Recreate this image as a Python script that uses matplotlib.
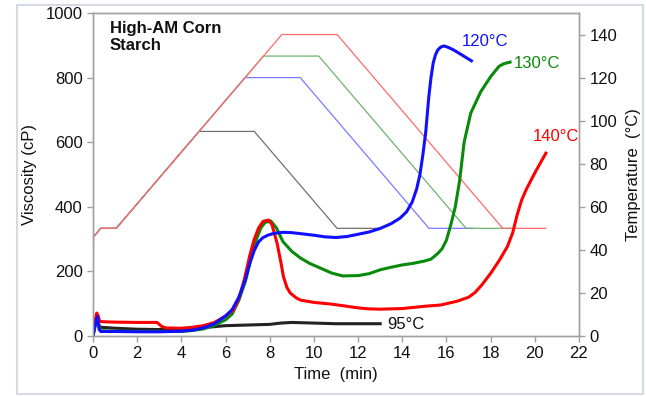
import matplotlib
matplotlib.use("Agg")
import matplotlib.pyplot as plt
from matplotlib.patches import Rectangle

plt.rcParams['font.family'] = ['Liberation Sans', 'DejaVu Sans']

# ---- Temperature profiles (time min, temp °C) ----
temp_95_t = [0, 0.02, 0.35, 1.05, 4.8, 7.3, 11.05, 13.0]
temp_95_v = [0, 46, 50, 50, 95, 95, 50, 50]
temp_120_t = [0, 0.02, 0.35, 1.05, 6.88, 9.38, 15.21, 17.2]
temp_120_v = [0, 46, 50, 50, 120, 120, 50, 50]
temp_130_t = [0, 0.02, 0.35, 1.05, 7.72, 10.22, 16.89, 18.9]
temp_130_v = [0, 46, 50, 50, 130, 130, 50, 50]
temp_140_t = [0, 0.02, 0.35, 1.05, 8.55, 11.05, 18.55, 20.5]
temp_140_v = [0, 46, 50, 50, 140, 140, 50, 50]

# ---- Viscosity curves (time min, cP) ----
visc_95_t = [0, 0.1, 0.18, 0.25, 0.35, 0.6, 1, 2, 3, 4, 5, 6, 7, 8, 8.5, 9, 9.5, 10, 11, 12, 13]
visc_95_v = [0, 50, 62, 35, 27, 26, 24, 21, 20, 22, 26, 32, 34, 36, 40, 42, 41, 40, 38, 38, 38]

visc_120_t = [0, 0.12, 0.2, 0.28, 0.35, 1, 2, 3, 4, 4.5, 5, 5.5, 6, 6.3, 6.6, 6.9, 7.1, 7.3,
              7.5, 7.7, 7.95, 8.2, 8.6, 9, 9.5, 10, 10.5, 11, 11.5, 12, 12.5, 13, 13.5, 13.9,
              14.2, 14.45, 14.65, 14.8, 14.93, 15.06, 15.2, 15.3, 15.4, 15.5, 15.6, 15.75,
              15.9, 16.1, 16.34, 16.7, 17.13]
visc_120_v = [0, 40, 60, 20, 14, 14, 13, 13, 15, 18, 25, 38, 62, 82, 120, 175, 225, 265,
              292, 305, 313, 318, 321, 320, 316, 312, 307, 305, 308, 315, 322, 333, 348, 365,
              385, 415, 455, 500, 560, 630, 740, 800, 845, 870, 885, 895,
              898, 893, 885, 870, 852]

visc_130_t = [0, 0.12, 0.2, 0.3, 0.4, 1, 2, 3, 4, 4.5, 5, 5.5, 6, 6.3, 6.6, 6.9, 7.15, 7.4,
              7.6, 7.8, 8.05, 8.3, 8.6, 9, 9.4, 9.8, 10.3, 10.8, 11.3, 12, 12.5, 13, 13.5, 14,
              14.5, 15, 15.3, 15.6, 15.8, 16, 16.2, 16.4, 16.6, 16.8, 17.1, 17.55, 18, 18.38,
              18.6, 18.88]
visc_130_v = [0, 40, 55, 20, 16, 15, 14, 14, 14, 17, 22, 33, 50, 68, 110, 170, 240, 300,
              335, 352, 356, 335, 292, 262, 241, 225, 210, 195, 186, 187, 193, 205, 213, 220,
              225, 232, 238, 255, 270, 297, 345, 400, 483, 600, 690, 756, 803, 835,
              843, 848]

visc_140_t = [0, 0.1, 0.17, 0.25, 0.3, 0.5, 1, 2, 2.9, 3.1, 3.3, 4, 4.5, 5, 5.5, 6, 6.35,
              6.6, 6.85, 7.1, 7.3, 7.5, 7.7, 7.95, 8.1, 8.33, 8.5, 8.62, 8.78, 8.93, 9.2, 9.4,
              10, 10.75, 11.5, 12, 12.5, 13, 14, 15, 15.74, 16.5, 17.0, 17.3, 17.6, 18, 18.4,
              18.76, 19, 19.2, 19.4, 19.6, 20, 20.5]
visc_140_v = [0, 50, 71, 60, 45, 44, 43, 42, 42, 30, 25, 24, 27, 32, 42, 62, 80,
              115, 175, 250, 300, 335, 355, 359, 345, 288, 230, 184, 150, 133, 118, 111,
              104, 99, 92, 87, 84, 83, 85, 92, 96, 108, 120, 135, 158, 194, 235,
              277, 320, 375, 420, 452, 505, 566]

x_ticks = [0, 2, 4, 6, 8, 10, 12, 14, 16, 18, 20, 22]
y_ticks = [0, 200, 400, 600, 800, 1000]
t_ticks = [0, 20, 40, 60, 80, 100, 120, 140]

fig = plt.figure(figsize=(6.46, 3.97), dpi=100)
fig.patches.append(Rectangle((17 / 646, 1 - 394 / 397), 626 / 646, 389 / 397,
                             transform=fig.transFigure, fill=False,
                             edgecolor='#d3dae2', linewidth=1.5, zorder=0))

ax = fig.add_axes([93 / 646, 1 - 336 / 397, (579 - 93) / 646, (336 - 13) / 397])
ax2 = ax.twinx()

# temperature lines (thin)
ax2.plot(temp_95_t, temp_95_v, color='#707070', lw=0.9)
ax2.plot(temp_120_t, temp_120_v, color='#7a7aff', lw=0.9)
ax2.plot(temp_130_t, temp_130_v, color='#6cb46c', lw=0.9)
ax2.plot(temp_140_t, temp_140_v, color='#ff6a6a', lw=0.9)
ax2.set_ylim(0, 150)
ax2.set_yticks(t_ticks)

# viscosity lines (thick) drawn above
ax.set_zorder(ax2.get_zorder() + 1)
ax.patch.set_visible(False)
ax.plot(visc_95_t, visc_95_v, color='#222222', lw=2.2)
ax.plot(visc_130_t, visc_130_v, color='#0a8a0a', lw=2.2)
ax.plot(visc_140_t, visc_140_v, color='#ff0000', lw=2.2)
ax.plot(visc_120_t, visc_120_v, color='#1010ff', lw=2.2)

ax.set_xlim(0, 22)
ax.set_ylim(0, 1000)
ax.set_xticks(x_ticks)
ax.set_yticks(y_ticks)

for a in (ax, ax2):
    for s in a.spines.values():
        s.set_color('#a0a0a0')
        s.set_linewidth(1.0)
    a.tick_params(colors='#a0a0a0', labelcolor='#111111', labelsize=12, length=4, width=1)

ax.set_xlabel('Time  (min)', fontsize=12, color='#111111', labelpad=4)
ax.set_ylabel('Viscosity (cP)', fontsize=12, color='#111111', labelpad=6)
ax2.set_ylabel('Temperature  (°C)', fontsize=12, color='#111111', labelpad=6)

ax.text(0.77, 975, 'High-AM Corn\nStarch', fontsize=12, fontweight='bold',
        va='top', ha='left', color='#111111', linespacing=1.2)
ax.text(16.7, 913, '120°C', color='#1010ff', fontsize=12, va='center', ha='left')
ax.text(19.05, 845, '130°C', color='#0a8a0a', fontsize=12, va='center', ha='left')
ax.text(19.9, 617, '140°C', color='#ff0000', fontsize=12, va='center', ha='left')
ax.text(13.3, 37, '95°C', color='#111111', fontsize=12, va='center', ha='left')

fig.savefig('out.png', dpi=100)
